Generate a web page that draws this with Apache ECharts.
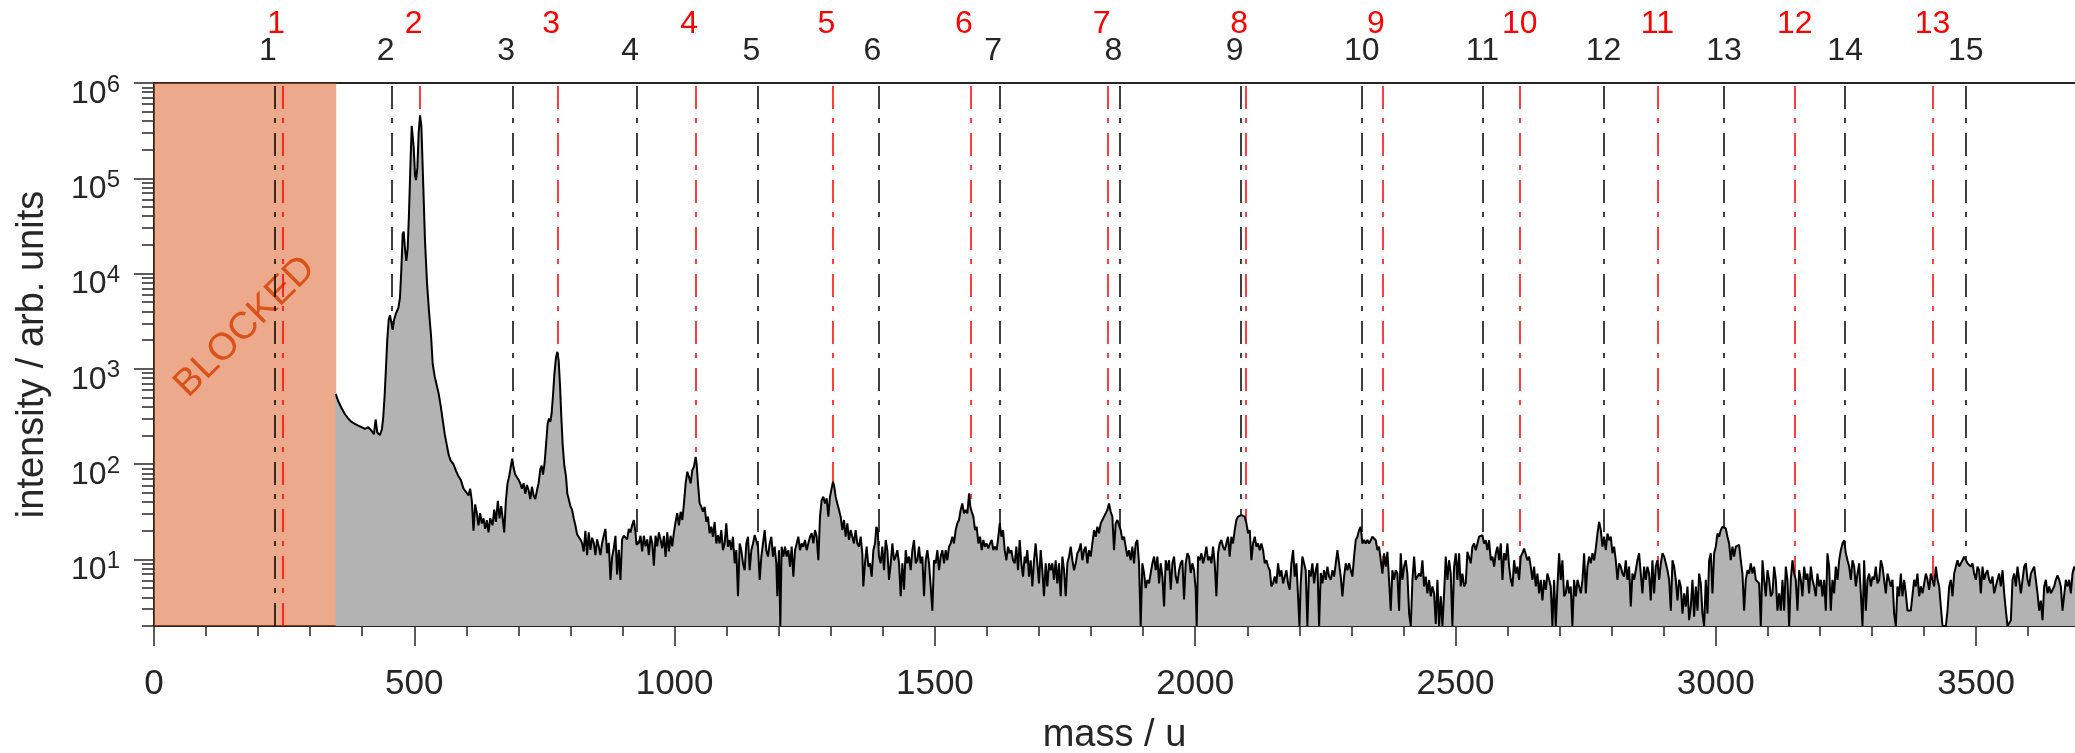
<!DOCTYPE html>
<html>
<head>
<meta charset="utf-8">
<script src="https://cdn.jsdelivr.net/npm/echarts@6/dist/echarts.min.js"></script>
<style>
  html, body { margin: 0; padding: 0; background: #ffffff; }
  #chart { width: 2075px; height: 753px; }
</style>
</head>
<body>
<div id="chart"></div>
<script>
(function () {
  "use strict";

  var FONT = '"Liberation Sans", Arial, Helvetica, sans-serif';
  var TEXT = "#262626";

  // axis ticks
  var xTicks = [0, 500, 1000, 1500, 2000, 2500, 3000, 3500];
  var yTicks = [10, 100, 1000, 10000, 100000, 1000000];
  var yMinorTicks = [2, 3, 4, 5, 6, 7, 8, 9,
    20, 30, 40, 50, 60, 70, 80, 90,
    200, 300, 400, 500, 600, 700, 800, 900,
    2000, 3000, 4000, 5000, 6000, 7000, 8000, 9000,
    20000, 30000, 40000, 50000, 60000, 70000, 80000, 90000,
    200000, 300000, 400000, 500000, 600000, 700000, 800000, 900000];

  // blocked mass window
  var blockedRange = [0, 350];

  // marker lines (mass / u) and their labels
  var blackLineMass = [231.4, 457.3, 689.1, 927.3, 1160.2, 1392.6, 1624.5, 1855.6,
    2088.1, 2319.9, 2551.7, 2784.2, 3016.0, 3248.5, 3480.3];
  var blackLineLabel = ["1", "2", "3", "4", "5", "6", "7", "8", "9", "10", "11", "12", "13", "14", "15"];
  var redLineMass = [247.0, 511.0, 775.5, 1040.4, 1304.3, 1568.1, 1832.6, 2097.1,
    2359.6, 2623.5, 2887.9, 3151.8, 3416.3];
  var redLineLabel = ["1", "2", "3", "4", "5", "6", "7", "8", "9", "10", "11", "12", "13"];

  // spectrum [mass, intensity]
  var spectrumLow = [
    [349, 546], [353.8, 460], [360.2, 388], [366.6, 336], [373.0, 301], [379.5, 277], [385.9, 265], [392.3, 254], [398.7, 244], [405.1, 234],
    [411.5, 244], [418.0, 224], [422.5, 206], [425.7, 294], [428.9, 215], [434.0, 202], [437.9, 234], [440.4, 314], [443.0, 522], [445.6, 1028],
    [448.1, 2027], [450.7, 3228], [453.3, 3664], [455.8, 3097], [458.4, 2570], [461.0, 3228], [464.8, 3828], [469.3, 4345], [472.5, 5598], [475.1, 11020],
    [477.6, 25700], [479.6, 27540], [482.1, 18330], [484.7, 13610], [487.3, 18330], [489.8, 42760], [492.4, 128500], [495.0, 354800], [496.9, 370700], [498.8, 213800],
    [501.4, 108400], [503.3, 95500], [505.9, 128500], [508.4, 299900], [511.0, 457100], [513.6, 354800], [516.8, 99500], [520.6, 21690], [524.5, 7852], [528.3, 3990],
    [532.2, 2208], [535.4, 1119], [539.2, 832], [543.1, 674], [546.9, 546], [550.8, 406], [554.6, 289], [558.5, 206], [562.3, 160], [566.2, 124],
    [570.0, 109], [575.2, 100], [580.3, 84.6], [584.8, 74.5], [589.3, 68.4], [594.4, 55.3], [599.6, 50.9], [604.1, 46.8], [607.3, 55.3], [610.5, 41.2],
    [613.7, 20.0], [616.9, 37.8], [620.1, 30.6], [623.3, 22.8], [626.5, 30.6], [629.7, 23.8], [633.0, 27.0], [636.1, 20.9], [639.4, 25.8], [642.6, 19.2],
    [645.8, 27.0], [650.3, 22.8], [653.5, 33.3], [656.7, 24.8], [660.5, 41.2], [663.7, 27.0], [667.0, 36.3], [670.2, 25.8], [672.7, 19.2], [675.9, 41.2],
    [679.1, 63.0], [682.3, 74.5], [685.6, 96.2], [688.1, 114], [690.7, 92.0], [693.9, 77.8], [697.1, 77.8], [700.3, 68.4], [703.5, 63.0], [706.7, 55.3],
    [710.0, 63.0], [713.2, 48.8], [716.4, 60.3], [719.6, 53.1], [722.8, 43.0], [726.0, 57.8], [729.2, 46.8], [732.4, 43.0], [735.6, 53.1], [738.8, 63.0],
    [742.0, 88.3], [744.6, 96.2], [747.2, 77.8], [750.4, 104], [753.6, 174], [756.1, 265], [758.7, 301], [761.3, 277], [763.8, 342], [766.4, 522],
    [769.0, 869], [772.2, 1327], [774.8, 1507], [777.3, 1219], [779.9, 674], [782.4, 314], [785.0, 160], [788.2, 96.2], [791.4, 74.5], [794.0, 48.8],
    [796.6, 43.0], [799.8, 36.3], [803.0, 33.3], [806.2, 27.0], [809.4, 22.8], [812.6, 18.4], [815.8, 17.7], [819.0, 16.2], [822.2, 14.9], [825.4, 12.1],
    [828.6, 20.0], [831.9, 11.1], [835.1, 19.2], [838.3, 12.6], [841.5, 16.9], [844.7, 14.9], [847.9, 11.1], [851.1, 16.2], [854.3, 13.7], [857.5, 11.1],
    [860.7, 14.9], [863.9, 17.7], [867.1, 20.9], [870.4, 11.6], [873.6, 14.9], [876.8, 6.1], [880.0, 10.6], [883.2, 13.1], [886.4, 17.7], [889.6, 6.95],
    [892.8, 12.6], [896.0, 6.1], [899.2, 16.2], [902.4, 17.7], [905.6, 18.4], [908.9, 16.2], [912.1, 20.9], [915.3, 19.2], [918.5, 22.8], [921.7, 25.8],
    [924.9, 19.2], [926.8, 14.3], [931.3, 14.9], [934.5, 17.7], [937.7, 12.1], [940.9, 17.7], [944.2, 13.7], [947.4, 16.2], [950.6, 11.1], [953.8, 17.7],
    [957.0, 14.9], [960.2, 8.6], [963.4, 17.7], [966.6, 13.7], [969.8, 19.2], [973.0, 16.2], [976.2, 13.1], [979.5, 17.7], [982.7, 10.6], [985.9, 19.2],
    [989.1, 12.1], [992.3, 17.7], [995.5, 13.7], [998.7, 19.2], [1001.9, 24.8], [1005.1, 30.6], [1008.3, 22.8]
  ];

  var spectrumMidA = [
    [1011.6, 31.6], [1014.8, 25.9], [1018.0, 38.7], [1021.2, 62.7], [1024.4, 83.2], [1027.6, 73.6], [1030.8, 62.7], [1034.0, 86.5], [1037.2, 93.8], [1040.4, 119],
    [1042.3, 102], [1044.9, 62.7], [1048.1, 38.7], [1051.3, 35.7], [1054.5, 31.6], [1057.7, 35.7], [1060.9, 24.8], [1064.1, 28.1], [1067.3, 18.8], [1070.5, 22.0],
    [1073.7, 17.3], [1076.9, 24.8], [1080.1, 14.7], [1083.3, 18.0], [1086.5, 14.7], [1089.7, 20.3], [1092.9, 12.5], [1096.1, 14.7], [1099.3, 23.9], [1102.5, 13.6],
    [1105.7, 16.0], [1108.9, 12.5], [1112.1, 17.3], [1115.4, 9.1], [1118.6, 12.5], [1121.8, 4.1], [1125.0, 14.7], [1128.2, 12.5], [1131.4, 9.1], [1134.6, 7.7],
    [1137.8, 14.7], [1141.0, 17.3], [1144.2, 7.7], [1147.4, 12.5], [1150.6, 14.7], [1153.8, 18.0], [1157.0, 17.3], [1160.2, 13.6], [1163.4, 6.1], [1166.6, 10.7],
    [1169.8, 14.7], [1173.0, 20.3], [1176.2, 12.5], [1179.4, 10.7], [1182.6, 14.7], [1185.8, 17.3], [1189.0, 10.7], [1192.2, 13.6], [1195.4, 9.1], [1197.3, 4.1],
    [1200.5, 12.5], [1203.1, 2.0], [1205.6, 13.6], [1208.8, 10.7], [1212.1, 13.6], [1215.3, 10.7], [1218.5, 12.5], [1221.7, 8.4], [1224.9, 13.6], [1228.1, 6.6],
    [1231.3, 12.5], [1234.5, 14.7], [1237.7, 17.3], [1240.9, 12.5], [1244.1, 14.7], [1247.3, 13.6], [1250.5, 16.0], [1253.7, 12.5], [1256.9, 14.7], [1260.1, 17.3],
    [1263.3, 18.8], [1266.5, 14.7], [1269.7, 20.3], [1272.9, 17.3], [1276.1, 9.8], [1279.3, 28.1], [1282.5, 41.9], [1285.7, 45.5], [1288.9, 38.7], [1292.1, 43.7],
    [1295.3, 28.1], [1298.5, 45.5], [1301.7, 55.6], [1304.3, 65.3], [1306.8, 57.8], [1309.4, 45.5], [1312.6, 38.7], [1315.8, 33.0], [1319.0, 28.1], [1322.2, 20.3],
    [1325.4, 25.9], [1328.6, 17.3], [1331.8, 23.9], [1335.0, 16.0], [1338.2, 20.3], [1341.4, 17.3], [1344.6, 14.7], [1347.8, 20.3], [1351.0, 14.7], [1354.2, 13.6],
    [1357.4, 17.3], [1360.6, 11.6], [1362.5, 5.2], [1365.7, 9.1], [1368.9, 13.6], [1372.2, 8.4], [1375.4, 9.1], [1378.6, 6.6], [1381.8, 12.5], [1385.0, 14.7],
    [1387.5, 22.0], [1390.1, 20.3], [1392.6, 10.7], [1395.8, 9.1], [1399.0, 13.6], [1402.3, 7.7], [1405.5, 16.0], [1408.7, 12.5], [1411.9, 6.1], [1415.1, 9.1],
    [1418.3, 14.7], [1421.5, 9.8], [1424.7, 10.7], [1427.9, 12.5], [1431.1, 9.1], [1434.3, 4.1], [1437.5, 9.1], [1440.7, 4.8], [1443.9, 12.5], [1447.1, 9.1],
    [1450.3, 10.7], [1453.5, 7.7], [1456.7, 12.5], [1459.9, 16.0], [1463.1, 9.1], [1466.3, 9.8], [1469.5, 13.6], [1472.7, 9.1], [1475.9, 10.7], [1479.1, 4.1],
    [1482.3, 9.8], [1485.5, 12.5], [1488.7, 9.1], [1491.9, 5.2], [1495.1, 2.9], [1498.3, 9.8], [1501.5, 9.1], [1504.7, 12.5], [1507.9, 7.7], [1511.1, 10.7],
    [1514.3, 12.5], [1517.5, 9.1], [1520.7, 12.5], [1523.9, 9.8], [1527.1, 13.6], [1530.3, 14.7], [1533.5, 17.3], [1536.7, 14.7], [1539.9, 20.3], [1543.1, 23.9],
    [1546.3, 25.9], [1549.5, 33.0], [1552.7, 38.7], [1555.9, 30.4], [1559.1, 33.0], [1562.4, 30.4], [1565.6, 49.2], [1568.1, 35.7], [1570.7, 31.6], [1573.9, 28.1],
    [1577.1, 20.3], [1580.3, 22.0], [1583.5, 14.7], [1586.7, 17.3], [1589.9, 12.5], [1593.1, 16.0], [1596.3, 13.6], [1599.5, 14.7], [1602.7, 13.0], [1605.9, 14.7],
    [1609.1, 16.0], [1612.3, 12.5], [1615.5, 13.6], [1618.7, 12.5], [1621.9, 17.3], [1624.5, 23.9], [1627.7, 17.3], [1630.9, 20.3], [1634.1, 12.5], [1637.3, 9.8],
    [1640.5, 13.6], [1643.7, 11.6], [1646.9, 12.5], [1650.1, 9.8], [1653.3, 9.1], [1656.5, 13.6], [1659.7, 7.7], [1662.9, 16.0], [1666.1, 9.1], [1669.3, 6.6],
    [1672.5, 10.7]
  ];

  var spectrumMidB = [
    [1674.4, 9.1], [1677.6, 12.5], [1680.8, 6.6], [1684.0, 9.8], [1687.2, 5.2], [1690.4, 9.8], [1693.6, 14.7], [1696.8, 9.1], [1700.0, 5.6], [1703.2, 12.5],
    [1706.4, 7.7], [1709.6, 4.1], [1712.8, 9.1], [1716.0, 5.2], [1719.2, 9.1], [1722.4, 7.7], [1725.6, 9.1], [1728.8, 6.1], [1732.0, 9.8], [1735.2, 5.6],
    [1738.4, 9.1], [1741.6, 4.1], [1744.9, 10.7], [1748.1, 7.7], [1751.3, 4.1], [1754.5, 9.1], [1757.7, 10.7], [1760.9, 13.6], [1764.1, 9.8], [1767.3, 7.7],
    [1770.5, 9.1], [1773.7, 11.6], [1776.9, 12.5], [1780.1, 14.7], [1783.3, 9.8], [1786.5, 12.5], [1789.7, 13.6], [1792.9, 9.1], [1796.1, 12.5], [1799.3, 10.7],
    [1802.5, 14.7], [1805.7, 20.3], [1808.9, 17.3], [1812.1, 22.0], [1815.3, 18.8], [1818.5, 23.9], [1821.7, 25.9], [1824.9, 28.1], [1828.1, 29.2], [1831.3, 33.0],
    [1834.5, 38.7], [1837.7, 31.6], [1840.9, 28.1], [1844.1, 12.5], [1847.3, 23.9], [1850.5, 25.9], [1853.7, 25.9], [1856.9, 20.3], [1860.1, 16.0], [1863.3, 17.3],
    [1866.5, 13.6], [1869.7, 10.7], [1872.9, 12.5], [1876.1, 9.8], [1879.3, 13.6], [1882.5, 9.1], [1885.7, 14.7], [1888.9, 16.0], [1892.1, 9.1], [1895.3, 2.0],
    [1898.5, 9.1], [1901.7, 7.2], [1904.9, 5.0], [1908.2, 6.1], [1911.4, 5.6], [1914.6, 7.2], [1917.8, 9.1], [1921.0, 10.7], [1924.2, 7.7], [1927.4, 10.7],
    [1930.6, 5.6], [1933.8, 9.1], [1937.0, 6.6], [1940.2, 3.2], [1943.4, 9.8], [1946.6, 7.7], [1949.8, 9.8], [1953.0, 4.8], [1956.2, 9.1], [1959.4, 10.7],
    [1962.6, 6.6], [1965.8, 5.6], [1969.0, 7.7], [1972.2, 9.1], [1975.4, 9.8], [1978.6, 3.8], [1981.8, 9.1], [1985.0, 11.6], [1988.2, 10.7], [1991.4, 7.2],
    [1994.6, 9.1], [1997.8, 7.7], [2001.0, 4.8], [2002.9, 2.0], [2005.5, 10.7], [2008.7, 9.8], [2011.9, 11.6], [2015.1, 9.1], [2018.3, 10.7], [2021.5, 13.6],
    [2024.7, 9.8], [2027.9, 10.7], [2031.1, 9.1], [2034.3, 13.6], [2037.5, 9.1], [2040.7, 4.1], [2043.9, 11.6], [2047.1, 14.7], [2050.3, 16.0], [2053.5, 13.6],
    [2056.7, 12.5], [2059.9, 14.7], [2063.1, 17.3], [2066.3, 10.7], [2069.5, 17.3], [2072.7, 14.7], [2075.9, 20.3], [2079.1, 25.9], [2082.3, 28.1], [2085.5, 27.0],
    [2088.7, 29.2], [2091.9, 28.1], [2095.1, 28.1], [2098.4, 23.9], [2101.6, 18.8], [2104.8, 20.3], [2108.0, 9.8], [2111.2, 14.7], [2114.4, 17.3], [2117.6, 13.6],
    [2120.8, 14.7], [2124.0, 12.5], [2127.2, 14.7], [2130.4, 12.5], [2133.6, 9.1], [2136.8, 9.8], [2140.0, 8.4], [2143.2, 7.7], [2146.4, 5.2], [2149.6, 5.6],
    [2152.8, 6.6], [2156.0, 5.6], [2159.2, 9.1], [2162.4, 6.6], [2165.6, 7.7], [2168.8, 5.6], [2172.0, 5.6], [2175.2, 7.7], [2178.4, 5.6], [2181.6, 4.8],
    [2184.8, 9.1], [2188.0, 12.5], [2191.2, 6.6], [2194.4, 9.1], [2197.6, 4.1], [2200.2, 2.0], [2202.7, 5.6], [2205.9, 10.7], [2209.1, 9.1], [2212.3, 7.7],
    [2215.5, 2.0], [2218.7, 7.7], [2221.9, 6.6], [2225.1, 9.1], [2228.4, 5.6], [2231.6, 7.7], [2234.8, 9.1], [2238.0, 2.0], [2241.2, 7.2], [2244.4, 5.6],
    [2247.6, 7.7], [2250.8, 6.1], [2254.0, 8.4], [2257.2, 6.6], [2260.4, 6.1], [2263.6, 7.7], [2266.8, 6.6], [2270.0, 9.1], [2273.2, 12.5], [2276.4, 9.1],
    [2279.6, 6.6], [2282.8, 4.1], [2286.0, 6.6], [2289.2, 9.1], [2292.4, 7.7], [2295.6, 9.1], [2298.8, 7.7], [2302.0, 6.6], [2305.2, 10.7], [2308.4, 16.0],
    [2311.6, 17.3], [2314.8, 20.3], [2318.0, 22.0], [2321.2, 14.7], [2324.4, 16.0], [2327.6, 14.7], [2330.8, 16.0], [2334.0, 14.7]
  ];

  var spectrumHighA = [
    [2337.2, 15.9], [2340.4, 17.3], [2343.6, 18.0], [2346.8, 15.9], [2350.0, 12.5], [2353.2, 13.6], [2356.4, 9.8], [2359.6, 7.1], [2362.8, 11.6], [2366.0, 8.4],
    [2369.2, 12.0], [2372.4, 6.1], [2375.6, 2.9], [2378.8, 7.7], [2382.0, 6.1], [2385.2, 7.7], [2388.4, 7.1], [2391.6, 2.9], [2394.8, 11.6], [2398.0, 6.1],
    [2401.2, 8.4], [2404.4, 9.8], [2407.6, 7.1], [2410.9, 2.7], [2414.1, 2.0], [2417.3, 6.1], [2420.5, 10.7], [2423.7, 6.1], [2426.9, 6.1], [2430.1, 7.1],
    [2433.3, 6.6], [2436.5, 9.8], [2439.7, 5.2], [2442.9, 6.6], [2446.1, 4.4], [2449.3, 6.1], [2452.5, 4.1], [2455.7, 5.2], [2458.9, 4.4], [2462.1, 2.1],
    [2465.3, 6.1], [2468.5, 2.0], [2471.7, 4.1], [2474.9, 2.0], [2478.1, 4.4], [2481.3, 10.7], [2484.5, 6.1], [2487.7, 9.8], [2490.9, 7.1], [2494.1, 2.0],
    [2497.3, 8.4], [2500.5, 11.6], [2503.7, 6.1], [2506.9, 11.6], [2510.1, 5.2], [2513.3, 7.1], [2516.5, 5.2], [2519.7, 5.6], [2522.9, 12.0], [2526.1, 11.6],
    [2529.3, 9.1], [2532.5, 13.6], [2535.7, 14.7], [2538.9, 12.5], [2542.1, 14.7], [2545.3, 17.3], [2548.5, 16.6], [2551.7, 18.0], [2554.9, 14.7], [2558.1, 15.9],
    [2561.3, 12.5], [2564.5, 15.9], [2567.8, 9.8], [2571.0, 10.7], [2574.2, 8.4], [2577.4, 11.6], [2580.6, 13.6], [2583.8, 9.8], [2587.0, 14.7], [2590.2, 6.1],
    [2593.4, 11.6], [2596.6, 9.8], [2599.8, 14.7], [2603.0, 8.4], [2606.2, 6.1], [2609.4, 5.2], [2612.6, 9.8], [2615.8, 7.1], [2619.0, 8.4], [2622.2, 6.1],
    [2625.4, 10.7], [2628.6, 11.6], [2631.8, 13.0], [2635.0, 12.5], [2638.2, 9.8], [2641.4, 10.7], [2644.6, 8.4], [2647.8, 6.1], [2651.0, 8.4], [2654.2, 5.2],
    [2657.4, 7.1], [2660.6, 4.4], [2663.8, 6.1], [2667.0, 3.7], [2670.2, 6.1], [2673.4, 4.8], [2676.6, 7.1], [2679.8, 6.1], [2683.0, 5.2], [2686.2, 2.0],
    [2689.4, 6.1], [2692.6, 2.0], [2695.8, 5.2], [2699.0, 11.6], [2702.2, 6.1], [2705.4, 9.8], [2708.6, 4.1], [2711.8, 4.4], [2715.0, 6.1], [2718.2, 4.4],
    [2721.4, 5.2], [2724.6, 2.0], [2727.8, 6.1], [2731.1, 4.1], [2734.3, 6.1], [2737.5, 5.2], [2740.7, 4.4], [2743.9, 6.1], [2747.1, 11.6], [2750.3, 4.4],
    [2753.5, 8.4], [2756.7, 10.7], [2759.9, 9.1], [2763.1, 11.6], [2766.3, 9.8], [2769.5, 13.0], [2772.7, 18.7], [2775.9, 24.8], [2779.1, 20.3], [2782.3, 13.6],
    [2785.5, 17.3], [2788.7, 12.5], [2791.9, 18.7], [2795.1, 15.9], [2798.3, 17.3], [2801.5, 11.6], [2804.7, 13.6], [2807.9, 9.8], [2811.1, 6.1], [2814.3, 9.1],
    [2817.5, 8.4], [2820.7, 7.1], [2823.9, 6.6], [2827.1, 9.8], [2830.3, 6.1], [2833.5, 8.4], [2836.7, 3.2], [2839.9, 7.1], [2843.1, 6.1], [2846.3, 7.7],
    [2849.5, 9.8], [2852.7, 11.6], [2855.9, 7.1], [2859.1, 4.4], [2862.3, 8.4], [2865.5, 6.1], [2868.7, 8.4], [2871.9, 7.1], [2875.1, 3.7], [2878.3, 9.8],
    [2881.5, 4.4], [2884.7, 8.4], [2887.9, 9.8], [2891.2, 6.1], [2894.4, 9.1], [2897.6, 11.6], [2900.8, 10.7], [2904.0, 9.1], [2907.2, 7.7], [2910.4, 6.1],
    [2913.6, 2.9], [2916.8, 9.8], [2920.0, 8.4], [2923.2, 6.1], [2926.4, 3.7], [2929.6, 6.1], [2932.8, 5.2], [2936.0, 2.7], [2939.2, 4.4], [2942.4, 3.2],
    [2945.6, 5.2], [2948.8, 2.3], [2952.0, 3.2], [2955.2, 6.1], [2958.4, 2.5], [2961.6, 5.2], [2964.8, 2.9], [2968.0, 7.1], [2971.2, 5.6], [2974.4, 2.7],
    [2977.6, 2.0], [2980.8, 6.1], [2984.0, 2.7], [2987.2, 9.8], [2990.4, 11.6], [2993.6, 4.4], [2996.8, 11.6]
  ];

  var spectrumHighB = [
    [3000.0, 13.6], [3003.2, 18.7], [3006.4, 17.3], [3009.6, 20.3], [3012.8, 22.0], [3016.0, 22.0], [3019.2, 21.1], [3022.4, 17.3], [3025.6, 14.7], [3028.8, 9.8],
    [3032.0, 13.6], [3035.2, 10.7], [3038.4, 13.6], [3041.6, 13.6], [3044.8, 14.2], [3048.0, 9.8], [3051.2, 7.1], [3054.4, 2.9], [3057.6, 6.1], [3060.8, 7.7],
    [3064.0, 7.1], [3067.2, 9.1], [3070.5, 7.1], [3073.7, 8.4], [3076.9, 6.1], [3080.1, 6.1], [3083.3, 5.6], [3086.5, 2.0], [3089.7, 9.8], [3092.9, 6.1],
    [3096.1, 4.1], [3099.3, 7.7], [3102.5, 6.1], [3105.7, 4.1], [3108.9, 4.4], [3112.1, 8.4], [3115.3, 6.1], [3118.5, 2.9], [3121.7, 4.4], [3124.9, 2.9],
    [3128.1, 6.1], [3131.3, 2.9], [3134.5, 8.4], [3137.7, 6.1], [3140.9, 2.0], [3144.1, 6.1], [3147.3, 9.8], [3150.5, 7.1], [3153.7, 6.1], [3156.9, 2.9],
    [3160.1, 7.7], [3163.3, 6.1], [3166.5, 4.1], [3169.7, 8.4], [3172.9, 6.1], [3176.1, 7.1], [3179.3, 4.4], [3182.5, 8.4], [3185.7, 6.1], [3188.9, 5.2],
    [3192.1, 4.1], [3195.3, 7.1], [3198.5, 5.2], [3201.7, 6.1], [3204.9, 4.1], [3208.1, 6.1], [3211.3, 2.9], [3214.5, 11.6], [3217.7, 8.4], [3220.9, 2.9],
    [3224.1, 6.1], [3227.3, 4.4], [3230.5, 8.4], [3233.8, 6.1], [3237.0, 9.8], [3240.2, 12.5], [3243.4, 14.7], [3246.6, 15.9], [3249.8, 11.6], [3253.0, 9.8],
    [3256.2, 8.4], [3259.4, 6.1], [3262.6, 9.8], [3265.8, 8.4], [3269.0, 5.2], [3272.2, 7.1], [3275.4, 9.1], [3278.6, 4.4], [3281.8, 2.0], [3285.0, 9.8],
    [3288.2, 2.9], [3291.4, 6.1], [3294.6, 7.1], [3297.8, 5.2], [3301.0, 6.6], [3304.2, 6.1], [3307.4, 8.4], [3310.6, 5.6], [3313.8, 6.1], [3317.0, 9.8],
    [3320.2, 8.4], [3323.4, 6.1], [3326.6, 4.4], [3329.8, 7.1], [3333.0, 6.1], [3336.2, 5.2], [3339.4, 6.1], [3342.6, 2.7], [3345.8, 2.0], [3349.0, 5.2],
    [3352.2, 4.1], [3355.4, 7.1], [3358.6, 4.1], [3361.8, 6.1], [3365.0, 4.4], [3368.2, 2.9], [3371.4, 2.9], [3374.6, 2.9], [3377.8, 2.9], [3381.0, 6.1],
    [3384.2, 5.2], [3387.4, 7.1], [3390.6, 4.1], [3393.9, 5.2], [3397.1, 4.4], [3400.3, 5.6], [3403.5, 7.1], [3406.7, 6.1], [3409.9, 4.8], [3413.1, 7.1],
    [3416.3, 7.1], [3419.5, 5.2], [3422.7, 8.4], [3425.9, 6.1], [3429.1, 5.2], [3432.3, 3.2], [3435.5, 2.0], [3438.7, 2.0], [3441.9, 2.0], [3445.1, 2.9],
    [3448.3, 5.2], [3451.5, 6.1], [3454.7, 4.1], [3457.9, 7.1], [3461.1, 8.4], [3464.3, 9.8], [3467.5, 8.4], [3470.7, 8.4], [3473.9, 9.8], [3477.1, 10.7],
    [3480.3, 11.1], [3483.5, 9.1], [3486.7, 9.4], [3489.9, 8.4], [3493.1, 9.1], [3496.3, 7.1], [3499.5, 6.1], [3502.7, 8.4], [3505.9, 7.7], [3509.1, 4.4],
    [3512.3, 8.4], [3515.5, 6.1], [3518.7, 7.1], [3521.9, 7.7], [3525.1, 6.1], [3528.3, 5.6], [3531.5, 6.6], [3534.7, 4.4], [3537.9, 5.2], [3541.1, 6.1],
    [3544.3, 7.1], [3547.5, 5.2], [3550.8, 7.7], [3554.0, 4.4], [3557.2, 2.9], [3560.4, 2.0], [3563.6, 2.0], [3566.8, 2.3], [3570.0, 6.1], [3573.2, 7.1],
    [3576.4, 5.2], [3579.6, 8.4], [3582.8, 6.1], [3586.0, 4.4], [3589.2, 6.1], [3592.4, 8.4], [3595.6, 9.1], [3598.8, 6.1], [3602.0, 5.2], [3605.2, 7.1],
    [3608.4, 7.1], [3611.6, 8.4], [3614.8, 6.1], [3618.0, 4.4], [3621.2, 2.9], [3624.4, 3.7], [3627.6, 2.3], [3630.8, 5.2], [3634.0, 6.1], [3637.2, 4.4],
    [3640.4, 5.2], [3643.6, 4.4], [3646.8, 4.4], [3650.0, 5.2], [3653.2, 6.1], [3656.4, 6.8], [3659.6, 6.1], [3662.8, 5.2], [3666.0, 2.9], [3669.2, 2.9],
    [3672.4, 6.1], [3675.6, 5.2], [3678.8, 6.1], [3682.0, 4.4], [3685.2, 7.1], [3688.4, 8.4], [3691.0, 7.7]
  ];

  var spectrum = spectrumLow.concat(spectrumMidA, spectrumMidB, spectrumHighA, spectrumHighB);

  function powerLabel(v) {
    var e = Math.round(Math.log(v) / Math.LN10);
    return "{b|10}{s|" + e + "}";
  }

  function lineMarks(masses, labels) {
    return masses.map(function (m, i) {
      return {
        name: labels[i],
        xAxis: m,
        label: { padding: labels[i].length === 1 ? [0, 13, 0, 0] : 0 }
      };
    });
  }

  function markLineOption(color, labelColor, distance, data) {
    return {
      silent: true,
      z: 2,
      symbol: ["none", "none"],
      animation: false,
      emphasis: { disabled: true },
      lineStyle: { color: color, width: 1.5, type: [23, 10, 5, 9] },
      label: {
        show: true,
        position: "end",
        formatter: "{b}",
        distance: distance,
        color: labelColor,
        fontSize: 32,
        fontFamily: FONT
      },
      data: data
    };
  }

  var chart = echarts.init(document.getElementById("chart"), null, { renderer: "canvas" });

  chart.setOption({
    animation: false,
    backgroundColor: "#ffffff",
    textStyle: { fontFamily: FONT },
    grid: { left: 154, right: 0, top: 83, bottom: 127, containLabel: false, outerBoundsMode: "none" },
    xAxis: [
      {
        type: "value",
        min: 0,
        max: 3690,
        interval: 500,
        name: "mass / u",
        nameLocation: "middle",
        nameGap: 91,
        nameTextStyle: { color: TEXT, fontSize: 38, fontFamily: FONT },
        axisLine: { show: true, lineStyle: { color: TEXT, width: 2 } },
        axisTick: { show: true, length: 20, customValues: xTicks, lineStyle: { color: TEXT, width: 1.5 } },
        minorTick: { show: true, splitNumber: 5, length: 10, lineStyle: { color: TEXT, width: 1.5 } },
        axisLabel: {
          customValues: xTicks,
          formatter: function (v) { return String(v); },
          margin: 41,
          color: TEXT,
          fontSize: 35,
          fontFamily: FONT
        },
        splitLine: { show: false },
        minorSplitLine: { show: false }
      },
      {
        type: "value",
        position: "top",
        min: 0,
        max: 3690,
        axisLine: { show: true, lineStyle: { color: TEXT, width: 2 } },
        axisTick: { show: false },
        axisLabel: { show: false },
        splitLine: { show: false }
      }
    ],
    yAxis: [
      {
        type: "log",
        logBase: 10,
        min: 2,
        max: 1000000,
        name: "intensity / arb. units",
        nameLocation: "middle",
        nameGap: 102,
        nameTextStyle: { color: TEXT, fontSize: 38, fontFamily: FONT },
        axisLine: { show: true, lineStyle: { color: TEXT, width: 2 } },
        axisTick: { show: true, length: 20, customValues: yTicks, lineStyle: { color: TEXT, width: 1.5 } },
        axisLabel: {
          customValues: yTicks,
          formatter: powerLabel,
          margin: 34,
          padding: [17, 0, 0, 0],
          color: TEXT,
          rich: {
            b: { fontSize: 32, fontFamily: FONT, color: TEXT, verticalAlign: "bottom" },
            s: { fontSize: 24, fontFamily: FONT, color: TEXT, verticalAlign: "bottom", padding: [0, 0, 13, 0] }
          }
        },
        splitLine: { show: false }
      },
      {
        type: "log",
        logBase: 10,
        min: 2,
        max: 1000000,
        position: "left",
        axisLine: { show: false },
        axisTick: { show: true, length: 12, customValues: yMinorTicks, lineStyle: { color: TEXT, width: 1.5 } },
        axisLabel: { show: false },
        splitLine: { show: false }
      }
    ],
    series: [
      {
        name: "blocked",
        type: "line",
        data: [],
        silent: true,
        markArea: {
          silent: true,
          z: 1,
          itemStyle: { color: "rgba(217, 83, 25, 0.5)" },
          label: {
            show: true,
            position: "inside",
            rotate: 45,
            offset: [19.5, -19.5],
            color: "#D95319",
            fontSize: 38,
            fontFamily: FONT
          },
          data: [[{ name: "BLOCKED", xAxis: blockedRange[0] }, { xAxis: blockedRange[1] }]]
        }
      },
      {
        name: "black markers",
        type: "line",
        data: [],
        silent: true,
        markLine: markLineOption("#000000", TEXT, 16, lineMarks(blackLineMass, blackLineLabel))
      },
      {
        name: "red markers",
        type: "line",
        data: [],
        silent: true,
        markLine: markLineOption("#FF0000", "#FF0000", 43, lineMarks(redLineMass, redLineLabel))
      },
      {
        name: "spectrum",
        type: "line",
        z: 3,
        data: spectrum,
        showSymbol: false,
        symbol: "none",
        silent: true,
        lineStyle: { color: "#000000", width: 2 },
        areaStyle: { color: "#B3B3B3", opacity: 1, origin: "start" }
      }
    ]
  });

  window.addEventListener("resize", function () { chart.resize(); });
})();
</script>
</body>
</html>
